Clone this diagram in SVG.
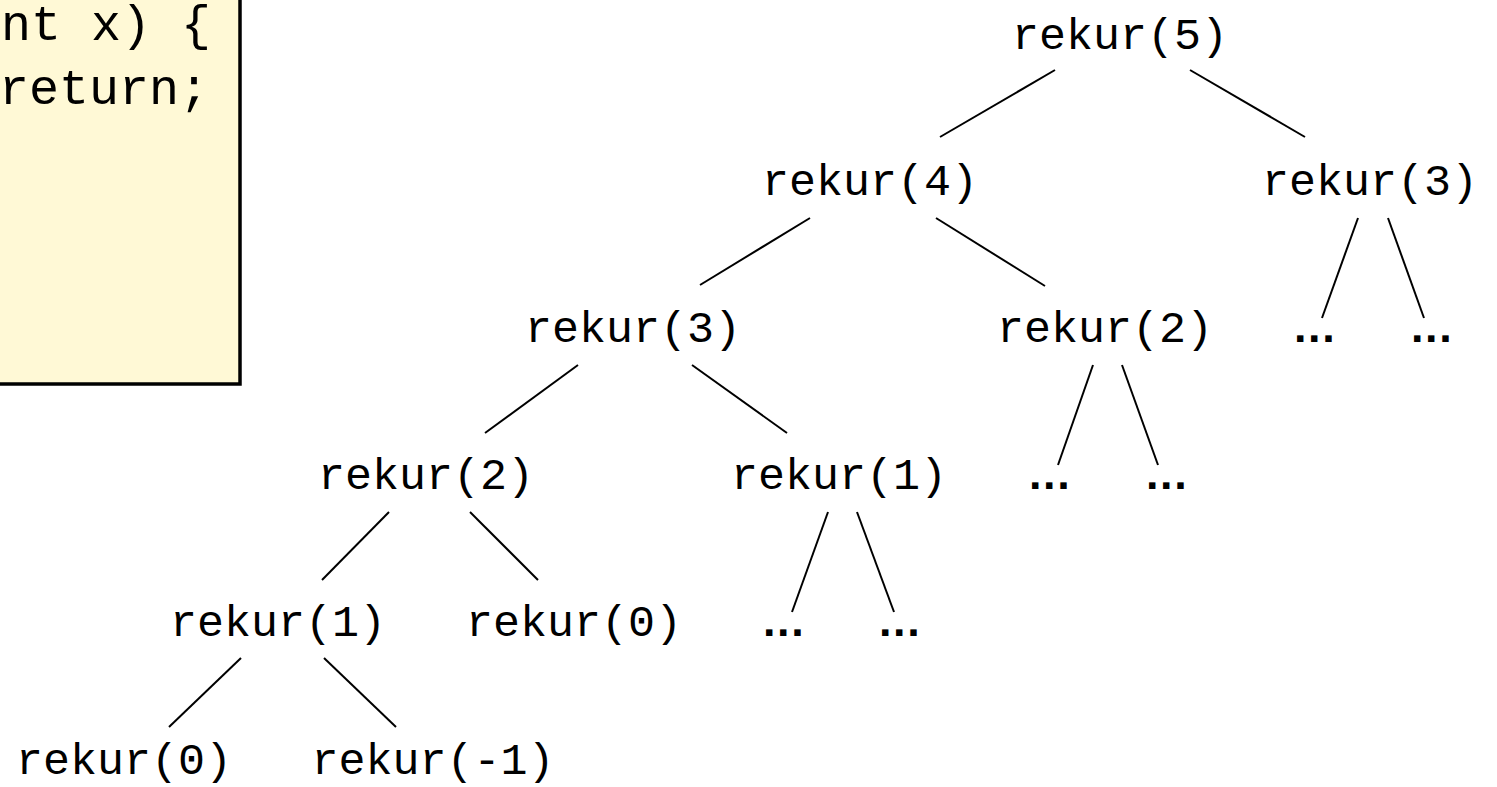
<svg xmlns="http://www.w3.org/2000/svg" width="1497" height="787" viewBox="0 0 1497 787">
<style>
.t{font-family:"Liberation Mono","DejaVu Sans Mono",monospace;font-size:45px;fill:#000;text-anchor:middle}
.c{font-family:"Liberation Mono","DejaVu Sans Mono",monospace;font-size:50px;fill:#000;text-anchor:end}
.d{font-family:"Liberation Sans",Arial,sans-serif;font-size:45px;font-weight:bold;fill:#000;letter-spacing:1.6px}
.e line{stroke:#000;stroke-width:2}
</style>
<rect width="1497" height="787" fill="#fff"/>
<g id="code">
<rect x="-10" y="-10" width="250" height="394" fill="#FFF9D6" stroke="#000" stroke-width="3.5"/>
<text class="c" x="211" y="40">nt x) {</text>
<text class="c" x="209" y="104">return;</text>
</g>
<g class="e" id="edges">
<line x1="1055" y1="70" x2="940" y2="137"/>
<line x1="1190" y1="70" x2="1305" y2="137"/>
<line x1="810" y1="218" x2="700" y2="285"/>
<line x1="936" y1="218" x2="1045" y2="286"/>
<line x1="1358" y1="218" x2="1322" y2="318"/>
<line x1="1388" y1="218" x2="1424" y2="318"/>
<line x1="578" y1="365" x2="485" y2="433"/>
<line x1="692" y1="365" x2="787" y2="433"/>
<line x1="1093" y1="365" x2="1058" y2="465"/>
<line x1="1122" y1="365" x2="1158" y2="465"/>
<line x1="389" y1="512" x2="322" y2="580"/>
<line x1="470" y1="512" x2="538" y2="580"/>
<line x1="828" y1="512" x2="792" y2="612"/>
<line x1="857" y1="512" x2="894" y2="612"/>
<line x1="241" y1="658" x2="169" y2="727"/>
<line x1="324" y1="658" x2="396" y2="727"/>
</g>
<g id="n5"><text class="t" x="1120" y="49">rekur(5)</text></g>
<g id="n4"><text class="t" x="870" y="195">rekur(4)</text></g>
<g id="n3a"><text class="t" x="1370" y="195">rekur(3)</text></g>
<g id="n3b"><text class="t" x="633" y="342">rekur(3)</text></g>
<g id="n2a"><text class="t" x="1105" y="342">rekur(2)</text></g>
<g id="n2b"><text class="t" x="426" y="489">rekur(2)</text></g>
<g id="n1a"><text class="t" x="839" y="489">rekur(1)</text></g>
<g id="n1b"><text class="t" x="278" y="636">rekur(1)</text></g>
<g id="n0a"><text class="t" x="574" y="636">rekur(0)</text></g>
<g id="n0b"><text class="t" x="124" y="774">rekur(0)</text></g>
<g id="nm1"><text class="t" x="433" y="774">rekur(-1)</text></g>
<g id="dots1"><text class="d" x="1294" y="342">...</text></g>
<g id="dots2"><text class="d" x="1411" y="342">...</text></g>
<g id="dots3"><text class="d" x="1029" y="489">...</text></g>
<g id="dots4"><text class="d" x="1146" y="489">...</text></g>
<g id="dots5"><text class="d" x="763" y="636">...</text></g>
<g id="dots6"><text class="d" x="879" y="636">...</text></g>
</svg>
